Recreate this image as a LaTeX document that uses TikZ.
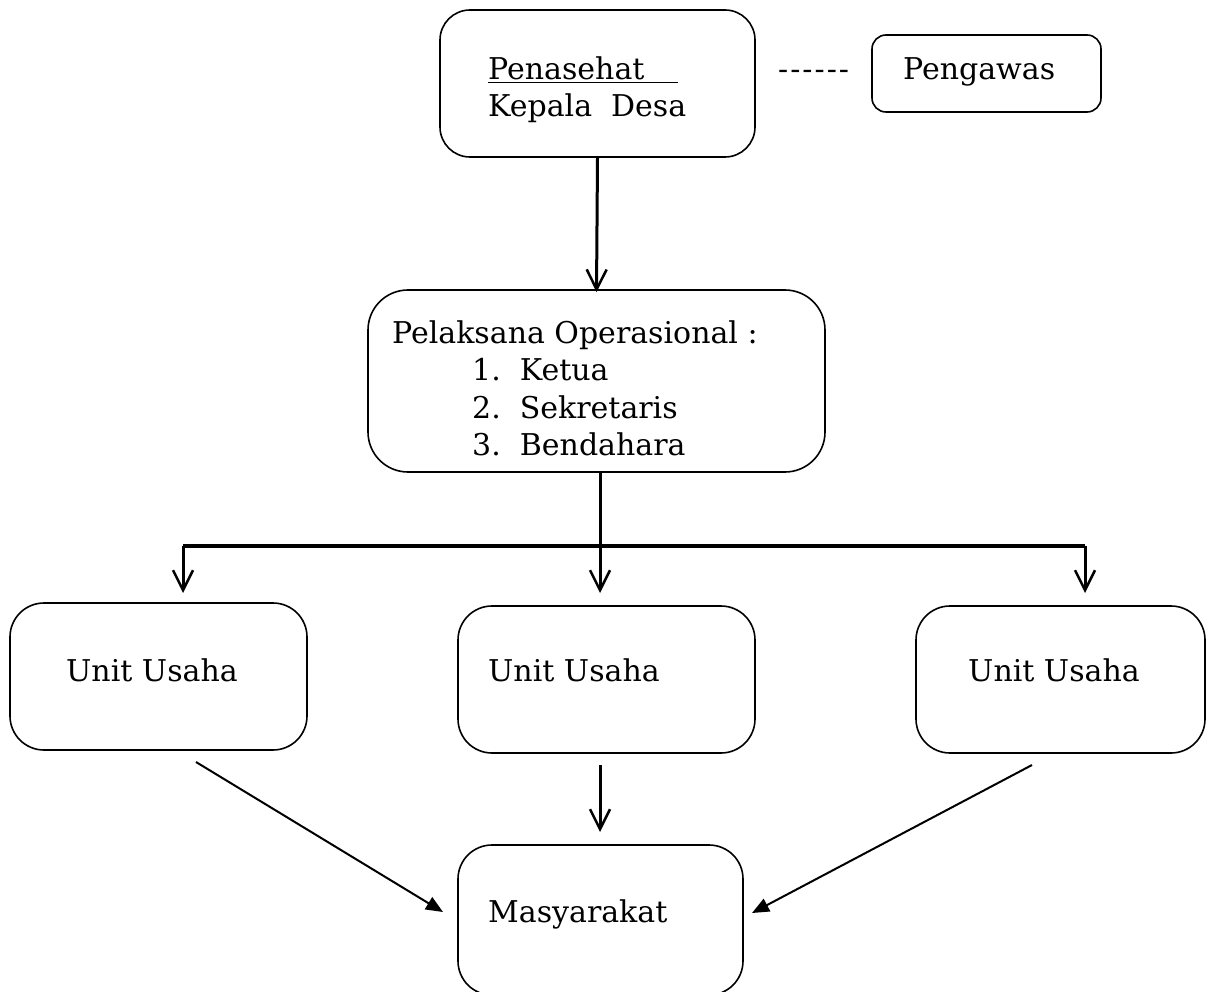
\documentclass[tikz,border=0pt]{standalone}
\usepackage{fontspec}
\setmainfont{DejaVu Serif}
\usetikzlibrary{arrows.meta}
\tikzset{
  box/.style={draw, line width=1.6pt, rounded corners=#1, inner sep=0pt},
  box/.default=32pt,
  txt/.style={anchor=base west, inner sep=0pt, font=\fontsize{30}{36}\selectfont},
  varr/.style={line width=3pt, -{Straight Barb[length=20pt,width=20pt,line width=2.5pt]}},
  darr/.style={line width=2pt, -{Triangle[length=17pt,width=14pt]}},
}
\begin{document}
\begin{tikzpicture}[x=1pt,y=-1pt]
\useasboundingbox (0,0) rectangle (1207,992);
% boxes
\node[box=30pt, minimum width=315pt, minimum height=147pt] (pen) at (597.5,83.5) {};
\node[box=14pt, minimum width=229pt, minimum height=77pt] (peng) at (986.5,73.5) {};
\node[box=40pt, minimum width=457pt, minimum height=182pt] (pel) at (596.5,381) {};
\node[box=34pt, minimum width=297pt, minimum height=147pt] (u1) at (158.5,676.5) {};
\node[box=34pt, minimum width=297pt, minimum height=147pt] (u2) at (606.5,679.5) {};
\node[box=34pt, minimum width=289pt, minimum height=147pt] (u3) at (1060.5,679.5) {};
\node[box=34pt, minimum width=285pt, minimum height=150pt] (mas) at (600.5,920) {};
% texts
\node[txt] (tpen) at (488,80) {\underline{Penasehat\hspace{34pt}}};
\node[txt] (tkd) at (488,117) {Kepala\ \ Desa};
\node[txt] (tdash) at (778,80) {-\kern2pt{}-\kern2pt{}-\kern2pt{}-\kern2pt{}-\kern2pt{}-};
\node[txt] (tpeng) at (903,80) {Pengawas};
\node[txt] (tpel) at (392,343) {Pelaksana Operasional :};
\node[txt] (t1) at (472,380) {1.\ \ Ketua};
\node[txt] (t2) at (472,418) {2.\ \ Sekretaris};
\node[txt] (t3) at (472,455) {3.\ \ Bendahara};
\node[txt] (tu1) at (66,681) {Unit Usaha};
\node[txt] (tu2) at (488,681) {Unit Usaha};
\node[txt] (tu3) at (968,681) {Unit Usaha};
\node[txt] (tmas) at (488,922) {Masyarakat};
% coordinates
\coordinate (busL) at (183,546);
\coordinate (busR) at (1085,546);
\coordinate (u1top) at (183,593);
\coordinate (u2top) at (600,593);
\coordinate (u3top) at (1085,593);
\coordinate (pelbot) at (600,472);
\coordinate (u2bot) at (600,765);
\coordinate (mastop) at (600,832);
\coordinate (dl1) at (196,762);
\coordinate (dl2) at (443,912);
\coordinate (dr1) at (1032,765);
\coordinate (dr2) at (752,913);
% connectors
\draw[varr] (pen.south) -- ([yshift=-3pt]pel.north);
\draw[line width=4pt] (busL) -- (busR);
\draw[varr] (pelbot) -- (u2top);
\draw[varr] (busL) -- (u1top);
\draw[varr] (busR) -- (u3top);
\draw[varr] (u2bot) -- (mastop);
\draw[darr] (dl1) -- (dl2);
\draw[darr] (dr1) -- (dr2);
\end{tikzpicture}
\end{document}
